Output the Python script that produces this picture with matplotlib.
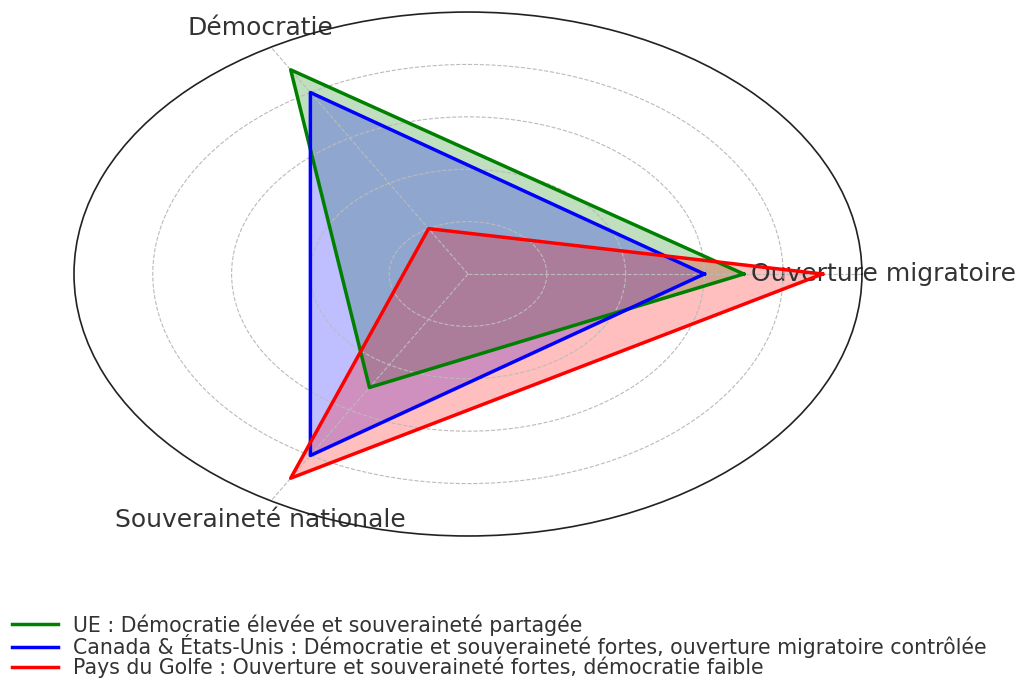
import numpy as np
import matplotlib.pyplot as plt

# axes du radar et scores (0-10)
categories = ['Ouverture migratoire', 'Démocratie', 'Souveraineté nationale']
ue = [7, 9, 5]
canada_usa = [6, 8, 8]
golfe = [9, 2, 9]

labels = [
    'UE : Démocratie élevée et souveraineté partagée',
    'Canada & États-Unis : Démocratie et souveraineté fortes, ouverture migratoire contrôlée',
    'Pays du Golfe : Ouverture et souveraineté fortes, démocratie faible',
]
couleurs = ['green', 'blue', 'red']

angles = np.linspace(0, 2 * np.pi, len(categories), endpoint=False)
angles_ferme = np.append(angles, angles[0])

fig = plt.figure(figsize=(10.22, 6.84), dpi=100)
ax = fig.add_axes([0.0724, 0.2164, 0.771, 0.766], projection='polar')
ax.set_aspect('auto')

for valeurs, couleur, lab in zip([ue, canada_usa, golfe], couleurs, labels):
    v = np.append(valeurs, valeurs[0])
    ax.plot(angles_ferme, v, color=couleur, linewidth=2.5, label=lab)
    ax.fill(angles_ferme, v, color=couleur, alpha=0.25)

ax.set_ylim(0, 10)
ax.set_yticks([2, 4, 6, 8])
ax.set_yticklabels([])
ax.set_xticks(angles)
ax.set_xticklabels(categories, fontsize=18, color='#333333')
ax.tick_params(axis='x', pad=5)
ax.grid(color='#bbbbbb', linestyle='--', linewidth=0.8)
ax.spines['polar'].set_color('#222222')
ax.spines['polar'].set_linewidth(1.2)

fig.legend(loc='lower left', bbox_to_anchor=(-0.006, -0.018), frameon=False,
           fontsize=14.8, labelspacing=-0.08, handlelength=2.2, handletextpad=0.75,
           labelcolor='#333333')

fig.savefig('out.png', dpi=100)
